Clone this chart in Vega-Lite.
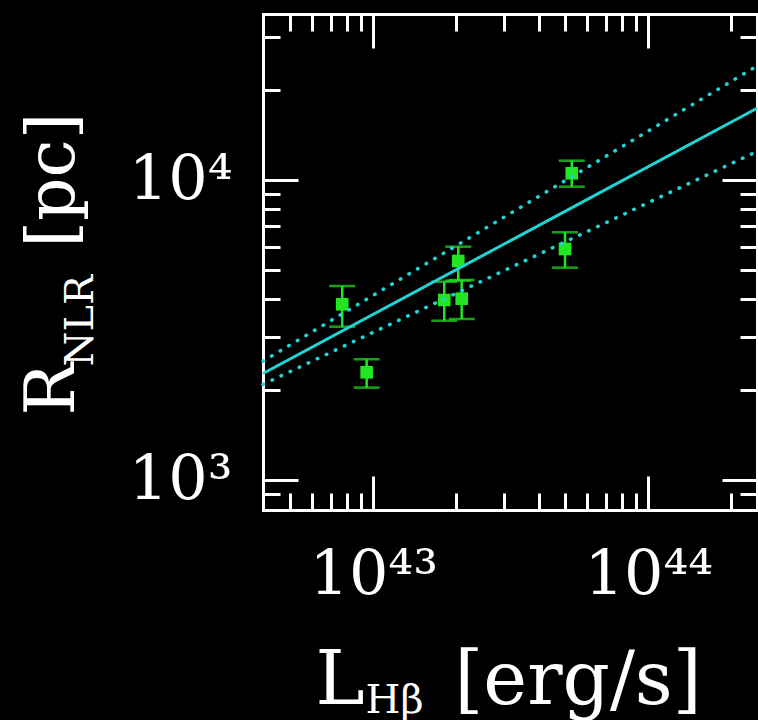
{
  "$schema": "https://vega.github.io/schema/vega-lite/v6.json",
  "width": 494,
  "height": 496,
  "autosize": {"type": "none"},
  "padding": {"left": 263, "top": 14, "right": 1, "bottom": 210},
  "background": "black",
  "config": {
    "view": {"stroke": null},
    "axis": {
      "grid": false,
      "domainColor": "white",
      "domainWidth": 3,
      "domainCap": "square",
      "tickColor": "white",
      "tickWidth": 3,
      "labelColor": "white",
      "titleColor": "white",
      "labelFont": "DejaVu Serif",
      "titleFont": "DejaVu Serif",
      "titleFontWeight": "normal",
      "labelFlush": false,
      "labelOverlap": false,
      "labelBound": false
    }
  },
  "datasets": {
    "pts": [
      {"L": 7.71e42, "R": 3853, "lo": 3243, "hi": 4433},
      {"L": 9.46e42, "R": 2286, "lo": 2032, "hi": 2526},
      {"L": 1.812e43, "R": 3981, "lo": 3396, "hi": 4581},
      {"L": 2.097e43, "R": 4021, "lo": 3441, "hi": 4642},
      {"L": 2.037e43, "R": 5370, "lo": 4620, "hi": 5993},
      {"L": 4.98e43, "R": 5888, "lo": 5102, "hi": 6694},
      {"L": 5.27e43, "R": 10525, "lo": 9499, "hi": 11596}
    ],
    "fit": [
      {"L": 3.972e42, "R": 2265},
      {"L": 2.485e44, "R": 17340}
    ],
    "band": [
      {"line": "upper", "L": 3.972e42, "R": 2489},
      {"line": "upper", "L": 2.485e44, "R": 23990},
      {"line": "lower", "L": 3.972e42, "R": 2084},
      {"line": "lower", "L": 2.485e44, "R": 12450}
    ]
  },
  "resolve": {"axis": {"x": "independent", "y": "independent"}},
  "layer": [
    {
      "data": {"name": "pts"},
      "mark": {"type": "rule", "color": "#22e622", "strokeWidth": 2.5},
      "encoding": {
        "x": {
          "field": "L", "type": "quantitative",
          "scale": {"type": "log", "domain": [3.972e42, 2.485e44], "nice": false, "zero": false},
          "axis": {
            "orient": "bottom", "values": [1e43, 1e44], "ticks": false, "domain": true,
            "labelExpr": "datum.value < 5e43 ? '10⁴³' : '10⁴⁴'",
            "labelFontSize": 62, "labelPadding": 34, "labelBaseline": "top", "labelAlign": "center",
            "title": "L", "titleFontSize": 74, "titleX": 52, "titleY": 193,
            "titleAlign": "left", "titleBaseline": "alphabetic", "titleAngle": 0
          }
        },
        "y": {
          "field": "lo", "type": "quantitative",
          "scale": {"type": "log", "domain": [794.3, 35750], "nice": false, "zero": false},
          "axis": {
            "orient": "left", "values": [1000, 10000], "ticks": false, "domain": true,
            "labelExpr": "datum.value < 5000 ? '10³' : '10⁴'",
            "labelFontSize": 62, "labelPadding": 31, "labelAlign": "right", "labelBaseline": "middle",
            "title": "R", "titleFontSize": 70, "titleX": -190, "titleY": 401,
            "titleAlign": "left", "titleBaseline": "alphabetic", "titleAngle": 270
          }
        },
        "y2": {"field": "hi"}
      }
    },
    {
      "data": {"name": "pts"},
      "mark": {"type": "tick", "orient": "horizontal", "color": "#22e622", "size": 26, "thickness": 2.5},
      "encoding": {
        "x": {
          "field": "L", "type": "quantitative",
          "scale": {"type": "log", "domain": [3.972e42, 2.485e44], "nice": false, "zero": false},
          "axis": {
            "orient": "bottom", "values": [1e43, 1e44], "ticks": true, "tickSize": -34,
            "labels": false, "domain": false,
            "title": "Hβ", "titleFontSize": 40, "titleX": 102, "titleY": 202,
            "titleAlign": "left", "titleBaseline": "alphabetic", "titleAngle": 0
          }
        },
        "y": {
          "field": "lo", "type": "quantitative",
          "scale": {"type": "log", "domain": [794.3, 35750], "nice": false, "zero": false},
          "axis": {
            "orient": "left", "values": [1000, 10000], "ticks": true, "tickSize": -35,
            "labels": false, "domain": false,
            "title": "NLR", "titleFontSize": 40, "titleX": -171, "titleY": 352,
            "titleAlign": "left", "titleBaseline": "alphabetic", "titleAngle": 270
          }
        }
      }
    },
    {
      "data": {"name": "pts"},
      "mark": {"type": "tick", "orient": "horizontal", "color": "#22e622", "size": 26, "thickness": 2.5},
      "encoding": {
        "x": {
          "field": "L", "type": "quantitative",
          "scale": {"type": "log", "domain": [3.972e42, 2.485e44], "nice": false, "zero": false},
          "axis": {
            "orient": "bottom",
            "values": [5e42, 6e42, 7e42, 8e42, 9e42, 2e43, 3e43, 4e43, 5e43, 6e43, 7e43, 8e43, 9e43, 2e44],
            "ticks": true, "tickSize": -17, "labels": false, "domain": false,
            "title": "[erg/s]", "titleFontSize": 74, "titleX": 191, "titleY": 193,
            "titleAlign": "left", "titleBaseline": "alphabetic", "titleAngle": 0
          }
        },
        "y": {
          "field": "hi", "type": "quantitative",
          "scale": {"type": "log", "domain": [794.3, 35750], "nice": false, "zero": false},
          "axis": {
            "orient": "left",
            "values": [900, 2000, 3000, 4000, 5000, 6000, 7000, 8000, 9000, 20000, 30000],
            "ticks": true, "tickSize": -17, "labels": false, "domain": false,
            "title": "[pc]", "titleFontSize": 68, "titleX": -190, "titleY": 233,
            "titleAlign": "left", "titleBaseline": "alphabetic", "titleAngle": 270
          }
        }
      }
    },
    {
      "data": {"name": "pts"},
      "mark": {"type": "point", "shape": "square", "filled": true, "color": "#22e622", "size": 160, "opacity": 1},
      "encoding": {
        "x": {
          "field": "L", "type": "quantitative",
          "scale": {"type": "log", "domain": [3.972e42, 2.485e44], "nice": false, "zero": false},
          "axis": {
            "orient": "top", "values": [1e43, 1e44], "ticks": true, "tickSize": -34,
            "labels": false, "domain": true, "title": null
          }
        },
        "y": {
          "field": "R", "type": "quantitative",
          "scale": {"type": "log", "domain": [794.3, 35750], "nice": false, "zero": false},
          "axis": {
            "orient": "right", "values": [1000, 10000], "ticks": true, "tickSize": -35,
            "labels": false, "domain": true, "title": null
          }
        }
      }
    },
    {
      "data": {"name": "fit"},
      "mark": {"type": "line", "color": "#22d3d3", "strokeWidth": 3},
      "encoding": {
        "x": {
          "field": "L", "type": "quantitative",
          "scale": {"type": "log", "domain": [3.972e42, 2.485e44], "nice": false, "zero": false},
          "axis": {
            "orient": "top",
            "values": [5e42, 6e42, 7e42, 8e42, 9e42, 2e43, 3e43, 4e43, 5e43, 6e43, 7e43, 8e43, 9e43, 2e44],
            "ticks": true, "tickSize": -17, "labels": false, "domain": false, "title": null
          }
        },
        "y": {
          "field": "R", "type": "quantitative",
          "scale": {"type": "log", "domain": [794.3, 35750], "nice": false, "zero": false},
          "axis": {
            "orient": "right",
            "values": [900, 2000, 3000, 4000, 5000, 6000, 7000, 8000, 9000, 20000, 30000],
            "ticks": true, "tickSize": -17, "labels": false, "domain": false, "title": null
          }
        }
      }
    },
    {
      "data": {"name": "band"},
      "mark": {"type": "line", "color": "#22d3d3", "strokeWidth": 3.6, "strokeDash": [0.5, 9.5], "strokeCap": "round"},
      "encoding": {
        "x": {
          "field": "L", "type": "quantitative",
          "scale": {"type": "log", "domain": [3.972e42, 2.485e44], "nice": false, "zero": false},
          "axis": null
        },
        "y": {
          "field": "R", "type": "quantitative",
          "scale": {"type": "log", "domain": [794.3, 35750], "nice": false, "zero": false},
          "axis": null
        },
        "detail": {"field": "line", "type": "nominal"}
      }
    }
  ]
}
